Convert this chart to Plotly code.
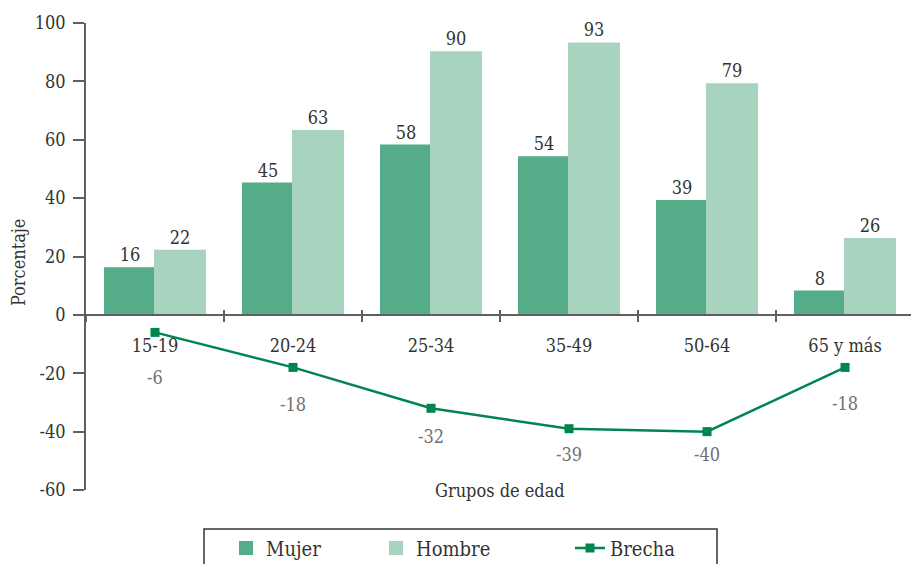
import plotly.graph_objects as go

# Grupos de edad y porcentajes por sexo
grupos = ["15-19", "20-24", "25-34", "35-49", "50-64", "65 y más"]
mujer = [16, 45, 58, 54, 39, 8]
hombre = [22, 63, 90, 93, 79, 26]
brecha = [-6, -18, -32, -39, -40, -18]

y_ticks = [100, 80, 60, 40, 20, 0, -20, -40, -60]
y_tick_text = ["100", "80", "60", "40", "20", "0", "-20", "-40", "-60"]

# Desplazamiento vertical (px) de cada etiqueta de la brecha bajo su punto
brecha_label_shift = [-45, -37, -28, -26, -23, -36]

FONT = "DejaVu Serif Condensed, DejaVu Serif"
FS = 18
DARK = "#333333"
GREY = "#707070"
AXIS = "#5f5f5f"
C_MUJER = "#55ac88"
C_HOMBRE = "#a8d3be"
C_BRECHA = "#00854f"

Y_MIN, Y_MAX = -60, 100

fig = go.Figure()

fig.add_trace(go.Bar(
    x=grupos, y=mujer, name="Mujer",
    marker=dict(color=C_MUJER, line=dict(color=C_MUJER, width=2)),
    text=[str(v) for v in mujer], textposition="outside",
    outsidetextfont=dict(family=FONT, size=FS, color=DARK),
    cliponaxis=False, legend="legend",
))
fig.add_trace(go.Bar(
    x=grupos, y=hombre, name="Hombre",
    marker=dict(color=C_HOMBRE, line=dict(color=C_HOMBRE, width=2)),
    text=[str(v) for v in hombre], textposition="outside",
    outsidetextfont=dict(family=FONT, size=FS, color=DARK),
    cliponaxis=False, legend="legend2",
))
fig.add_trace(go.Scatter(
    x=grupos, y=brecha, name="Brecha", mode="lines+markers",
    line=dict(color=C_BRECHA, width=2.5),
    marker=dict(symbol="square", size=9, color=C_BRECHA),
    cliponaxis=False, legend="legend3",
))

# Etiquetas de la brecha, debajo de cada punto
for g, v, dy in zip(grupos, brecha, brecha_label_shift):
    fig.add_annotation(
        x=g, y=v, text=str(v), showarrow=False, yshift=dy,
        font=dict(family=FONT, size=FS, color=GREY),
    )

# Títulos de los ejes
fig.add_annotation(
    x=0.502, y=0, xref="paper", yref="paper", text="Grupos de edad",
    showarrow=False, yanchor="middle",
    font=dict(family=FONT, size=FS, color=DARK),
)
fig.add_annotation(
    x=-68 / 825, y=0.488, xref="paper", yref="paper", text="Porcentaje",
    showarrow=False, textangle=-90, xanchor="center", yanchor="middle",
    font=dict(family=FONT, size=FS, color=DARK),
)

# Marco de la leyenda
fig.add_shape(
    type="rect", xref="paper", yref="paper",
    x0=(204 - 86) / 825, x1=(717 - 86) / 825,
    y0=(490 - 529) / 467, y1=(490 - 600) / 467,
    line=dict(color=DARK, width=1.5), fillcolor="rgba(0,0,0,0)",
)

zero_pos = (0 - Y_MIN) / (Y_MAX - Y_MIN)
legend_font = dict(family=FONT, size=20, color=DARK)
legend_y = (490 - 548) / 467

fig.update_layout(
    width=911, height=564,
    margin=dict(l=86, r=0, t=23, b=74, autoexpand=False),
    paper_bgcolor="white", plot_bgcolor="white",
    barmode="group", bargap=0.275, bargroupgap=0,
    font=dict(family=FONT, size=FS, color=DARK),
    xaxis=dict(
        type="category", categoryorder="array", categoryarray=grupos,
        range=[-0.5, 5.478], anchor="free", position=zero_pos,
        showline=True, linecolor=AXIS, linewidth=1.5,
        ticks="outside", tickson="boundaries", ticklen=6,
        tickcolor=AXIS, tickwidth=1.5,
        ticklabelstandoff=15,
        tickfont=dict(family=FONT, size=FS, color=DARK),
        showgrid=False, zeroline=False,
    ),
    xaxis2=dict(
        type="category", categoryorder="array", categoryarray=grupos,
        matches="x", overlaying="x", anchor="free", position=zero_pos,
        showline=False, ticks="inside", tickson="boundaries", ticklen=5,
        tickcolor=AXIS, tickwidth=1.5, showticklabels=False,
        showgrid=False, zeroline=False,
    ),
    yaxis=dict(
        range=[Y_MIN, Y_MAX], tickmode="array",
        tickvals=y_ticks, ticktext=y_tick_text,
        showline=True, linecolor=AXIS, linewidth=1.5,
        ticks="outside", ticklen=11, tickcolor=AXIS, tickwidth=1.5,
        ticklabelstandoff=4,
        tickfont=dict(family=FONT, size=FS, color=DARK),
        showgrid=False, zeroline=False,
    ),
    legend=dict(x=(226 - 86) / 825, y=legend_y, xanchor="left", yanchor="middle",
                orientation="h", font=legend_font, bgcolor="rgba(0,0,0,0)"),
    legend2=dict(x=(376 - 86) / 825, y=legend_y, xanchor="left", yanchor="middle",
                 orientation="h", font=legend_font, bgcolor="rgba(0,0,0,0)"),
    legend3=dict(x=(570 - 86) / 825, y=legend_y, xanchor="left", yanchor="middle",
                 orientation="h", font=legend_font, bgcolor="rgba(0,0,0,0)"),
    showlegend=True,
)

# Eje auxiliar para las marcas que cruzan la línea del cero
fig.add_trace(go.Scatter(x=grupos, y=[None] * len(grupos), xaxis="x2",
                         showlegend=False, hoverinfo="skip"))

fig.write_html("out.html")
